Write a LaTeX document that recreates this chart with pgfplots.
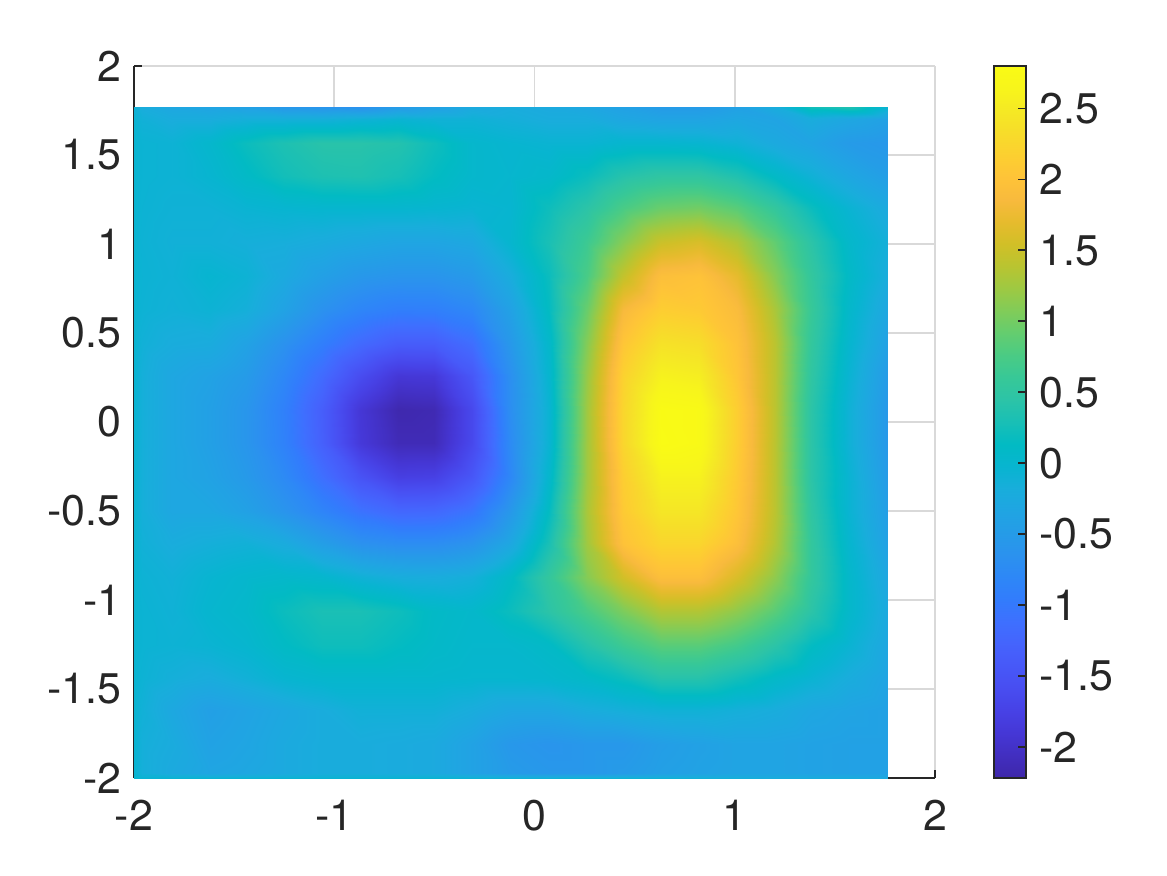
\documentclass[border=0pt]{standalone}
\usepackage{fontspec}
\setmainfont{TeX Gyre Heros}
\usepackage{pgfplots}
\pgfplotsset{compat=1.18}
\definecolor{ticktext}{rgb}{0.15,0.15,0.15}
\definecolor{gridgray}{rgb}{0.85,0.85,0.85}

% parula, every other entry of the 64 step table
\pgfplotsset{colormap={parula}{
  rgb=(.2422,.1504,.6603) rgb=(.2578,.1818,.7511) rgb=(.2706,.2147,.8364) rgb=(.2783,.2559,.8991)
  rgb=(.2813,.3006,.9414) rgb=(.2795,.3447,.9717) rgb=(.2699,.3892,.9906) rgb=(.2440,.4358,.9988)
  rgb=(.1963,.4847,.9892) rgb=(.1786,.5289,.9682) rgb=(.1687,.5703,.9359) rgb=(.1460,.6091,.9079)
  rgb=(.1248,.6459,.8883) rgb=(.0952,.6798,.8598) rgb=(.0297,.7082,.8163) rgb=(.0067,.7312,.7660)
  rgb=(.0964,.7500,.7120) rgb=(.1717,.7670,.6554) rgb=(.2161,.7843,.5923) rgb=(.2906,.7973,.5188)
  rgb=(.3909,.8029,.4354) rgb=(.5044,.7993,.3480) rgb=(.6174,.7876,.2612) rgb=(.7242,.7698,.1910)
  rgb=(.8203,.7498,.1535) rgb=(.9035,.7330,.1774) rgb=(.9728,.7298,.2394) rgb=(.9970,.7659,.2199)
  rgb=(.9892,.8136,.1885) rgb=(.9676,.8639,.1643) rgb=(.9597,.9135,.1423) rgb=(.9691,.9606,.1064)
  rgb=(.9769,.9839,.0805)
}}

\begin{document}
\begin{tikzpicture}
\path[use as bounding box] (0,0) rectangle (11.67,8.75);
% the frame, grid and tick labels sit in their own axis, under the surface
\begin{axis}[
    at={(1.34cm,0.97cm)},
    anchor=south west,
    scale only axis,
    width=8.01cm,
    height=7.12cm,
    xmin=-2, xmax=2, ymin=-2, ymax=2,
    axis x line*=bottom,
    axis y line*=left,
    axis line style={-,color=ticktext,line width=0.5pt},
    xtick={-2,-1,0,1,2},
    xticklabels={-2,-1,0,1,2},
    ytick={-2,-1.5,-1,-0.5,0,0.5,1,1.5,2},
    yticklabels={-2,-1.5,-1,-0.5,0,0.5,1,1.5,2},
    tick align=inside,
    major tick length=0.08cm,
    tick style={color=ticktext,line width=0.5pt},
    grid=major,
    grid style={color=gridgray,line width=0.5pt},
    ticklabel style={font=\fontsize{12.2}{14}\selectfont,text=ticktext},
    xticklabel style={yshift=-0.10cm},
    yticklabel style={xshift=0cm},
]
\end{axis}
\begin{axis}[
    at={(1.34cm,0.97cm)},
    anchor=south west,
    scale only axis,
    width=8.01cm,
    height=7.12cm,
    view={0}{90},
    xmin=-2, xmax=2, ymin=-2, ymax=2,
    hide axis,
    colormap name=parula,
    point meta min=-2.22,
    point meta max=2.8,
    colorbar,
    colorbar style={
        at={(1.0737,0)},
        anchor=south west,
        width=0.32cm,
        ytick={-2,-1.5,-1,-0.5,0,0.5,1,1.5,2,2.5},
        yticklabels={-2,-1.5,-1,-0.5,0,0.5,1,1.5,2,2.5},
        tick pos=right,
        tick align=inside,
        major tick length=0.08cm,
        tick style={color=ticktext,line width=0.5pt},
        axis line style={color=ticktext,line width=0.5pt},
        yticklabel style={font=\fontsize{12.2}{14}\selectfont,text=ticktext,xshift=0.01cm},
    },
]
\addplot3[surf,shader=interp,mesh/rows=23,mesh/cols=22] coordinates {
(-2,-2,-.02) (-1.96,-2,-.05) (-1.81,-2,-.05) (-1.62,-2,-.05) (-1.44,-2,-.05) (-1.25,-2,-.05) (-1.06,-2,-.05) (-.87,-2,-.05) (-.68,-2,-.05) (-.5,-2,-.05) (-.31,-2,-.08) (-.12,-2,-.1) (.07,-2,-.1) (.26,-2,-.08) (.44,-2,-.08) (.63,-2,-.1) (.82,-2,-.12) (1.01,-2,-.15) (1.2,-2,-.2) (1.38,-2,-.2) (1.57,-2,-.2) (1.765,-2,-.25)
(-2,-1.97,-.03) (-1.96,-1.97,-.15) (-1.81,-1.97,-.25) (-1.62,-1.97,-.33) (-1.44,-1.97,-.3) (-1.25,-1.97,-.25) (-1.06,-1.97,-.2) (-.87,-1.97,-.2) (-.68,-1.97,-.22) (-.5,-1.97,-.25) (-.31,-1.97,-.38) (-.12,-1.97,-.5) (.07,-1.97,-.55) (.26,-1.97,-.55) (.44,-1.97,-.5) (.63,-1.97,-.42) (.82,-1.97,-.38) (1.01,-1.97,-.35) (1.2,-1.97,-.35) (1.38,-1.97,-.38) (1.57,-1.97,-.4) (1.765,-1.97,-.4)
(-2,-1.81,-.03) (-1.96,-1.81,-.15) (-1.81,-1.81,-.22) (-1.62,-1.81,-.38) (-1.44,-1.81,-.33) (-1.25,-1.81,-.25) (-1.06,-1.81,-.2) (-.87,-1.81,-.2) (-.68,-1.81,-.22) (-.5,-1.81,-.25) (-.31,-1.81,-.38) (-.12,-1.81,-.55) (.07,-1.81,-.6) (.26,-1.81,-.55) (.44,-1.81,-.55) (.63,-1.81,-.45) (.82,-1.81,-.4) (1.01,-1.81,-.35) (1.2,-1.81,-.35) (1.38,-1.81,-.38) (1.57,-1.81,-.4) (1.765,-1.81,-.4)
(-2,-1.62,-.03) (-1.96,-1.62,-.12) (-1.81,-1.62,-.28) (-1.62,-1.62,-.42) (-1.44,-1.62,-.36) (-1.25,-1.62,-.28) (-1.06,-1.62,-.2) (-.87,-1.62,-.12) (-.68,-1.62,-.12) (-.5,-1.62,-.12) (-.31,-1.62,-.2) (-.12,-1.62,-.3) (.07,-1.62,-.3) (.26,-1.62,-.2) (.44,-1.62,-.15) (.63,-1.62,-.1) (.82,-1.62,-.1) (1.01,-1.62,-.15) (1.2,-1.62,-.2) (1.38,-1.62,-.3) (1.57,-1.62,-.35) (1.765,-1.62,-.4)
(-2,-1.44,-.03) (-1.96,-1.44,-.08) (-1.81,-1.44,-.15) (-1.62,-1.44,-.2) (-1.44,-1.44,-.12) (-1.25,-1.44,-.02) (-1.06,-1.44,.02) (-.87,-1.44,.02) (-.68,-1.44,.02) (-.5,-1.44,.02) (-.31,-1.44,0) (-.12,-1.44,0) (.07,-1.44,.02) (.26,-1.44,.08) (.44,-1.44,.2) (.63,-1.44,.4) (.82,-1.44,.4) (1.01,-1.44,.25) (1.2,-1.44,.08) (1.38,-1.44,-.05) (1.57,-1.44,-.2) (1.765,-1.44,-.35)
(-2,-1.25,-.03) (-1.96,-1.25,-.06) (-1.81,-1.25,-.08) (-1.62,-1.25,-.05) (-1.44,-1.25,0) (-1.25,-1.25,.12) (-1.06,-1.25,.22) (-.87,-1.25,.22) (-.68,-1.25,.15) (-.5,-1.25,.08) (-.31,-1.25,.03) (-.12,-1.25,.03) (.07,-1.25,.1) (.26,-1.25,.4) (.44,-1.25,.65) (.63,-1.25,.85) (.82,-1.25,.85) (1.01,-1.25,.7) (1.2,-1.25,.45) (1.38,-1.25,.15) (1.57,-1.25,-.05) (1.765,-1.25,-.3)
(-2,-1.06,-.03) (-1.96,-1.06,-.06) (-1.81,-1.06,-.1) (-1.62,-1.06,0) (-1.44,-1.06,.05) (-1.25,-1.06,.2) (-1.06,-1.06,.3) (-.87,-1.06,.3) (-.68,-1.06,.22) (-.5,-1.06,.1) (-.31,-1.06,.05) (-.12,-1.06,.2) (.07,-1.06,.45) (.26,-1.06,.75) (.44,-1.06,1.05) (.63,-1.06,1.35) (.82,-1.06,1.35) (1.01,-1.06,1.15) (1.2,-1.06,.85) (1.38,-1.06,.45) (1.57,-1.06,.05) (1.765,-1.06,-.25)
(-2,-.87,-.03) (-1.96,-.87,-.08) (-1.81,-.87,-.12) (-1.62,-.87,-.03) (-1.44,-.87,.02) (-1.25,-.87,.05) (-1.06,-.87,.02) (-.87,-.87,-.1) (-.68,-.87,-.18) (-.5,-.87,-.2) (-.31,-.87,-.15) (-.12,-.87,.1) (.07,-.87,.55) (.26,-.87,1.1) (.44,-.87,1.55) (.63,-.87,1.95) (.82,-.87,1.95) (1.01,-.87,1.6) (1.2,-.87,1.15) (1.38,-.87,.55) (1.57,-.87,.05) (1.765,-.87,-.3)
(-2,-.68,-.03) (-1.96,-.68,-.12) (-1.81,-.68,-.2) (-1.62,-.68,-.15) (-1.44,-.68,-.12) (-1.25,-.68,-.22) (-1.06,-.68,-.45) (-.87,-.68,-.65) (-.68,-.68,-.72) (-.5,-.68,-.72) (-.31,-.68,-.62) (-.12,-.68,-.3) (.07,-.68,.3) (.26,-.68,1.25) (.44,-.68,2) (.63,-.68,2.25) (.82,-.68,2.25) (1.01,-.68,1.95) (1.2,-.68,1.35) (1.38,-.68,.55) (1.57,-.68,0) (1.765,-.68,-.4)
(-2,-.5,-.03) (-1.96,-.5,-.15) (-1.81,-.5,-.3) (-1.62,-.5,-.3) (-1.44,-.5,-.4) (-1.25,-.5,-.6) (-1.06,-.5,-.84) (-.87,-.5,-1.08) (-.68,-.5,-1.23) (-.5,-.5,-1.22) (-.31,-.5,-1.05) (-.12,-.5,-.55) (.07,-.5,.15) (.26,-.5,1.3) (.44,-.5,2.1) (.63,-.5,2.45) (.82,-.5,2.45) (1.01,-.5,2.05) (1.2,-.5,1.4) (1.38,-.5,.5) (1.57,-.5,-.05) (1.765,-.5,-.45)
(-2,-.31,-.03) (-1.96,-.31,-.15) (-1.81,-.31,-.3) (-1.62,-.31,-.38) (-1.44,-.31,-.52) (-1.25,-.31,-.76) (-1.06,-.31,-1.12) (-.87,-.31,-1.5) (-.68,-.31,-1.78) (-.5,-.31,-1.76) (-.31,-.31,-1.45) (-.12,-.31,-.8) (.07,-.31,.03) (.26,-.31,1.25) (.44,-.31,2.15) (.63,-.31,2.6) (.82,-.31,2.6) (1.01,-.31,2.1) (1.2,-.31,1.4) (1.38,-.31,.45) (1.57,-.31,-.05) (1.765,-.31,-.5)
(-2,-.12,-.03) (-1.96,-.12,-.15) (-1.81,-.12,-.3) (-1.62,-.12,-.42) (-1.44,-.12,-.58) (-1.25,-.12,-.88) (-1.06,-.12,-1.32) (-.87,-.12,-1.87) (-.68,-.12,-2.12) (-.5,-.12,-2.12) (-.31,-.12,-1.65) (-.12,-.12,-.75) (.07,-.12,-.05) (.26,-.12,1.25) (.44,-.12,2.25) (.63,-.12,2.8) (.82,-.12,2.75) (1.01,-.12,2.15) (1.2,-.12,1.4) (1.38,-.12,.45) (1.57,-.12,-.1) (1.765,-.12,-.55)
(-2,.07,-.03) (-1.96,.07,-.15) (-1.81,.07,-.3) (-1.62,.07,-.42) (-1.44,.07,-.58) (-1.25,.07,-.9) (-1.06,.07,-1.35) (-.87,.07,-1.9) (-.68,.07,-2.18) (-.5,.07,-2.15) (-.31,.07,-1.65) (-.12,.07,-.7) (.07,.07,-.05) (.26,.07,1.25) (.44,.07,2.25) (.63,.07,2.78) (.82,.07,2.75) (1.01,.07,2.15) (1.2,.07,1.4) (1.38,.07,.45) (1.57,.07,-.1) (1.765,.07,-.55)
(-2,.26,-.03) (-1.96,.26,-.15) (-1.81,.26,-.3) (-1.62,.26,-.38) (-1.44,.26,-.5) (-1.25,.26,-.8) (-1.06,.26,-1.18) (-.87,.26,-1.6) (-.68,.26,-1.9) (-.5,.26,-1.88) (-.31,.26,-1.45) (-.12,.26,-.68) (.07,.26,0) (.26,.26,1.2) (.44,.26,2.2) (.63,.26,2.6) (.82,.26,2.55) (1.01,.26,2.05) (1.2,.26,1.4) (1.38,.26,.5) (1.57,.26,-.05) (1.765,.26,-.5)
(-2,.44,-.03) (-1.96,.44,-.12) (-1.81,.44,-.2) (-1.62,.44,-.22) (-1.44,.44,-.38) (-1.25,.44,-.65) (-1.06,.44,-.93) (-.87,.44,-1.2) (-.68,.44,-1.38) (-.5,.44,-1.37) (-.31,.44,-1.15) (-.12,.44,-.55) (.07,.44,.05) (.26,.44,1.1) (.44,.44,2.05) (.63,.44,2.4) (.82,.44,2.35) (1.01,.44,2) (1.2,.44,1.4) (1.38,.44,.55) (1.57,.44,0) (1.765,.44,-.4)
(-2,.63,-.03) (-1.96,.63,-.08) (-1.81,.63,-.12) (-1.62,.63,-.08) (-1.44,.63,-.15) (-1.25,.63,-.38) (-1.06,.63,-.65) (-.87,.63,-.83) (-.68,.63,-.93) (-.5,.63,-.92) (-.31,.63,-.8) (-.12,.63,-.4) (.07,.63,.15) (.26,.63,.95) (.44,.63,1.85) (.63,.63,2.15) (.82,.63,2.1) (1.01,.63,1.9) (1.2,.63,1.3) (1.38,.63,.6) (1.57,.63,.05) (1.765,.63,-.3)
(-2,.82,-.03) (-1.96,.82,-.07) (-1.81,.82,-.1) (-1.62,.82,-.02) (-1.44,.82,-.08) (-1.25,.82,-.25) (-1.06,.82,-.42) (-.87,.82,-.55) (-.68,.82,-.6) (-.5,.82,-.6) (-.31,.82,-.52) (-.12,.82,-.2) (.07,.82,.2) (.26,.82,.75) (.44,.82,1.45) (.63,.82,1.95) (.82,.82,2) (1.01,.82,1.7) (1.2,.82,1.1) (1.38,.82,.55) (1.57,.82,.1) (1.765,.82,-.2)
(-2,1.01,-.03) (-1.96,1.01,-.08) (-1.81,1.01,-.12) (-1.62,1.01,-.12) (-1.44,1.01,-.15) (-1.25,1.01,-.17) (-1.06,1.01,-.22) (-.87,1.01,-.28) (-.68,1.01,-.33) (-.5,1.01,-.33) (-.31,1.01,-.28) (-.12,1.01,0) (.07,1.01,.3) (.26,1.01,.65) (.44,1.01,1.1) (.63,1.01,1.5) (.82,1.01,1.6) (1.01,1.01,1.35) (1.2,1.01,.9) (1.38,1.01,.45) (1.57,1.01,.05) (1.765,1.01,-.15)
(-2,1.2,-.03) (-1.96,1.2,-.07) (-1.81,1.2,-.1) (-1.62,1.2,-.1) (-1.44,1.2,-.05) (-1.25,1.2,-.02) (-1.06,1.2,0) (-.87,1.2,0) (-.68,1.2,0) (-.5,1.2,-.02) (-.31,1.2,-.05) (-.12,1.2,-.02) (.07,1.2,.22) (.26,1.2,.45) (.44,1.2,.75) (.63,1.2,.95) (.82,1.2,1) (1.01,1.2,.85) (1.2,1.2,.55) (1.38,1.2,.2) (1.57,1.2,-.05) (1.765,1.2,-.25)
(-2,1.38,-.03) (-1.96,1.38,-.06) (-1.81,1.38,-.08) (-1.62,1.38,-.02) (-1.44,1.38,.1) (-1.25,1.38,.25) (-1.06,1.38,.33) (-.87,1.38,.35) (-.68,1.38,.28) (-.5,1.38,.15) (-.31,1.38,.03) (-.12,1.38,0) (.07,1.38,.05) (.26,1.38,.2) (.44,1.38,.4) (.63,1.38,.5) (.82,1.38,.5) (1.01,1.38,.35) (1.2,1.38,.1) (1.38,1.38,-.1) (1.57,1.38,-.3) (1.765,1.38,-.45)
(-2,1.57,-.03) (-1.96,1.57,-.06) (-1.81,1.57,-.08) (-1.62,1.57,.03) (-1.44,1.57,.2) (-1.25,1.57,.33) (-1.06,1.57,.42) (-.87,1.57,.42) (-.68,1.57,.38) (-.5,1.57,.22) (-.31,1.57,.03) (-.12,1.57,-.02) (.07,1.57,-.05) (.26,1.57,-.05) (.44,1.57,0) (.63,1.57,0) (.82,1.57,-.02) (1.01,1.57,-.1) (1.2,1.57,-.25) (1.38,1.57,-.35) (1.57,1.57,-.5) (1.765,1.57,-.55)
(-2,1.7,-.05) (-1.96,1.7,-.12) (-1.81,1.7,-.2) (-1.62,1.7,-.2) (-1.44,1.7,-.15) (-1.25,1.7,-.15) (-1.06,1.7,-.15) (-.87,1.7,-.1) (-.68,1.7,-.05) (-.5,1.7,-.1) (-.31,1.7,-.1) (-.12,1.7,-.15) (.07,1.7,-.2) (.26,1.7,-.2) (.44,1.7,-.3) (.63,1.7,-.35) (.82,1.7,-.35) (1.01,1.7,-.3) (1.2,1.7,-.35) (1.38,1.7,-.2) (1.57,1.7,-.3) (1.765,1.7,-.4)
(-2,1.77,-.1) (-1.96,1.77,-.2) (-1.81,1.77,-.3) (-1.62,1.77,-.35) (-1.44,1.77,-.4) (-1.25,1.77,-.55) (-1.06,1.77,-.6) (-.87,1.77,-.65) (-.68,1.77,-.5) (-.5,1.77,-.4) (-.31,1.77,-.25) (-.12,1.77,-.2) (.07,1.77,-.25) (.26,1.77,-.3) (.44,1.77,-.4) (.63,1.77,-.5) (.82,1.77,-.5) (1.01,1.77,-.4) (1.2,1.77,-.2) (1.38,1.77,.25) (1.57,1.77,.35) (1.765,1.77,-.05)
};
\end{axis}
\end{tikzpicture}
\end{document}
